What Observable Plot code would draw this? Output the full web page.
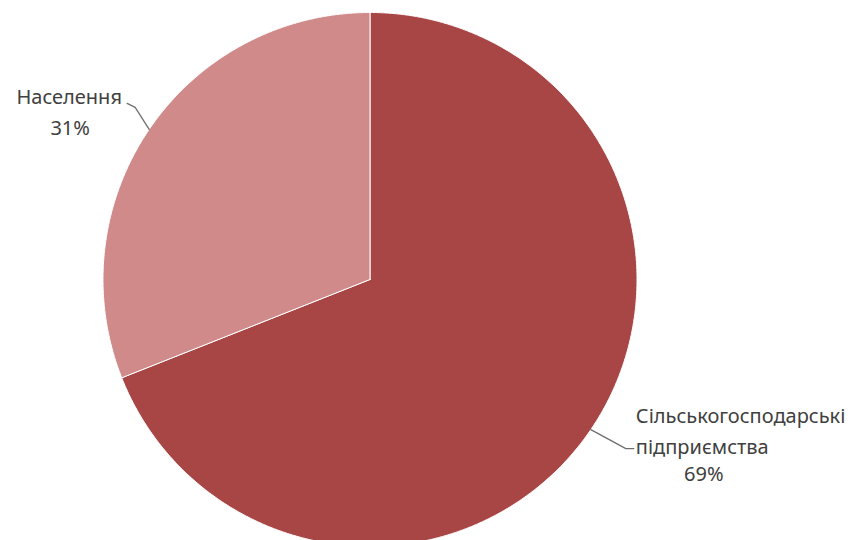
<!DOCTYPE html>
<html><head><meta charset="utf-8">
<script src="https://cdn.jsdelivr.net/npm/d3@7"></script>
<script src="https://cdn.jsdelivr.net/npm/@observablehq/plot@0.6"></script>
<style>body{margin:0;background:#fff;} svg{display:block;}</style>
</head><body>
<div id="chart"></div>
<script>
// Data
const categories = ["Сільськогосподарські підприємства", "Населення"];
const values = [69, 31];
const nameLines = [["Сільськогосподарські", "підприємства"], ["Населення"]];
const colors = ["#a84545", "#d08a8a"];

// Layout (pixels)
const W = 855, H = 540, R = 267, CX = 369.5, CY = 279;
const k = 1 / R;
const font = "Noto Sans";

const pie = d3.pie().sort(null).value(d => d.value);
const arcs = pie(categories.map((c, i) => ({name: c, value: values[i]})));

// Slice polygons from pie angles
const slicePts = [];
arcs.forEach(a => {
  const n = Math.max(2, Math.ceil((a.endAngle - a.startAngle) / 0.005));
  slicePts.push({name: a.data.name, x: 0, y: 0});
  for (let j = 0; j <= n; j++) {
    const t = a.startAngle + (a.endAngle - a.startAngle) * j / n;
    slicePts.push({name: a.data.name, x: Math.sin(t), y: Math.cos(t)});
  }
  slicePts.push({name: a.data.name, x: 0, y: 0});
});

// Label layout offsets (pixels) relative to the slice mid-point on the rim
const layout = {
  "Сільськогосподарські підприємства": {elbow: [35, 19], end: [43, 19], name: [45, 24], nameAnchor: "start", pct: [113, 51]},
  "Населення": {elbow: [-14, -22], end: [-22, -26], name: [-80, -25], nameAnchor: "middle", pct: [-79, 6]}
};

const leaders = [], names = [], pcts = [];
arcs.forEach((a, i) => {
  const m = (a.startAngle + a.endAngle) / 2;
  const mx = Math.sin(m), my = Math.cos(m);
  const L = layout[a.data.name];
  const P = ([dx, dy]) => ({x: mx + dx * k, y: my - dy * k});
  leaders.push({name: a.data.name, ...P([0, 0])});
  leaders.push({name: a.data.name, ...P(L.elbow)});
  leaders.push({name: a.data.name, ...P(L.end)});
  names.push({...P(L.name), text: nameLines[i].join("\n"), anchor: L.nameAnchor});
  pcts.push({...P(L.pct), text: values[i] + "%"});
});

const chart = Plot.plot({
  width: W, height: H, margin: 0,
  style: {background: "#fff", fontFamily: font},
  x: {domain: [-CX / R, (W - CX) / R], range: [0, W], axis: null},
  y: {domain: [(CY - H) / R, CY / R], range: [H, 0], axis: null},
  color: {domain: categories, range: colors},
  marks: [
    Plot.line(slicePts, {x: "x", y: "y", z: "name", fill: "name", stroke: "#fff", strokeWidth: 1}),
    Plot.line(leaders, {x: "x", y: "y", z: "name", stroke: "#6f6f6f", strokeWidth: 1.3}),
    Plot.text(names.filter(d => d.anchor === "start"), {x: "x", y: "y", text: "text", textAnchor: "start", lineAnchor: "bottom", lineHeight: 1.55, fontSize: 20, fill: "#404040"}),
    Plot.text(names.filter(d => d.anchor === "middle"), {x: "x", y: "y", text: "text", textAnchor: "middle", lineAnchor: "bottom", lineHeight: 1.55, fontSize: 20, fill: "#404040"}),
    Plot.text(pcts, {x: "x", y: "y", text: "text", textAnchor: "middle", lineAnchor: "bottom", fontSize: 20, fill: "#404040"})
  ]
});
document.getElementById("chart").append(chart);
</script>
</body></html>
